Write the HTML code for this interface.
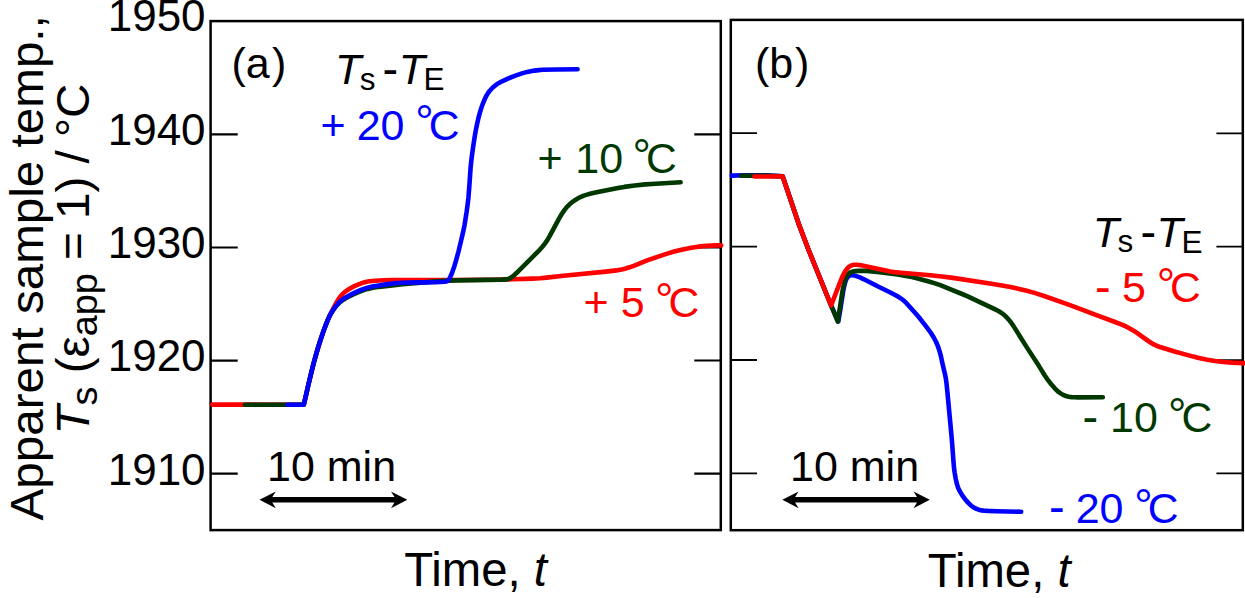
<!DOCTYPE html>
<html lang="en">
<head>
<meta charset="utf-8">
<title>Apparent sample temperature vs time</title>
<style>
  html, body { margin: 0; padding: 0; background: #ffffff; }
  body { width: 1245px; height: 598px; overflow: hidden; }
  svg { display: block; }
  text { font-family: "Liberation Sans", Arial, Helvetica, sans-serif; fill: #000; }
  .it { font-style: italic; }
  .frame { fill: none; stroke: #000; stroke-width: 2.5; }
  .tick { stroke: #000; stroke-width: 2.2; }
  .curve { fill: none; stroke-width: 4.6; stroke-linejoin: round; stroke-linecap: round; }
  .red { stroke: #ff0000; } .green { stroke: #003800; } .blue { stroke: #0000ff; }
  .tr { fill: #ff0000; } .tg { fill: #003800; } .tb { fill: #0000ff; }
</style>
</head>
<body>
<svg width="1245" height="598" viewBox="0 0 1245 598">
  <rect x="0" y="0" width="1245" height="598" fill="#ffffff"/>

  <!-- y axis title -->
  <text transform="translate(42.6 520.5) rotate(-90) scale(1.035 1)" font-size="46">Apparent sample temp.,</text>
  <text transform="translate(88.6 434.5) rotate(-90) scale(1.035 1)" font-size="46"><tspan class="it">T</tspan><tspan font-size="36.5" dy="8">s</tspan><tspan dy="-8"> (ε</tspan><tspan font-size="36.5" dy="8">app</tspan><tspan dy="-8"> = 1) / °C</tspan></text>

  <!-- y tick labels -->
  <g font-size="44" text-anchor="end">
    <text x="205.6" y="31.4">1950</text>
    <text x="205.6" y="145">1940</text>
    <text x="205.6" y="258.1">1930</text>
    <text x="205.6" y="371.3">1920</text>
    <text x="205.6" y="484.5">1910</text>
  </g>

  <!-- frames -->
  <rect class="frame" x="210.6" y="21.1" width="510.2" height="509"/>
  <rect class="frame" x="730.8" y="19.9" width="512" height="510.3"/>

  <!-- ticks left panel -->
  <g class="tick">
    <path d="M210.6 134.4H237.7M210.6 247.5H237.7M210.6 360.6H237.7M210.6 473.7H237.7"/>
    <path d="M720.8 134.3H694.3M720.8 247.4H694.3M720.8 360.5H694.3M720.8 473.7H694.3"/>
  </g>
  <g class="tick" style="stroke-width:1.8">
    <path d="M730.8 133.2H757M730.8 246.6H757M730.8 360H757M730.8 473.4H757"/>
    <path d="M1242.8 133.3H1216.4M1242.8 246.7H1216.4M1242.8 360.1H1216.4M1242.8 473.45H1216.4"/>
  </g>

  <!-- curves left -->
  <path class="curve red" d="M212.3 404.6L303.5 404.7L303.8 404.7L308.0 386.2L311.2 373.0L314.0 361.9L317.0 351.3L320.1 341.2L323.3 331.8L326.6 322.9L329.8 315.5L334.0 307.0L336.4 302.6L338.2 299.6L339.6 297.6L340.8 296.0L342.1 294.5L343.6 293.1L345.1 291.8L347.1 290.3L349.2 289.0L351.8 287.5L354.5 286.1L357.2 284.9L360.0 283.8L362.4 282.9L364.7 282.2L366.7 281.7L369.1 281.3L375.1 280.7L383.6 280.2L391.6 280.1L453.1 280.0L489.2 279.7L512.7 279.3L532.2 278.6L540.2 278.2L546.6 277.6L563.6 275.8L605.9 271.6L618.3 270.1L621.7 269.5L625.6 268.5L629.4 267.3L633.7 265.8L647.2 260.4L665.6 254.1L673.3 251.8L681.5 249.7L686.4 248.7L691.3 247.8L696.3 247.0L700.7 246.4L706.2 245.9L712.2 245.6L716.2 245.4L721.2 245.4"/>
  <path class="curve green" d="M244.9 404.7L303.5 404.7L303.8 404.7L309.9 378.4L312.6 367.2L315.1 358.0L317.7 348.9L320.4 340.3L323.1 332.2L326.0 324.3L328.1 319.2L330.1 315.1L332.1 311.7L334.3 308.4L336.8 305.3L339.3 302.8L342.0 300.6L345.0 298.7L349.3 296.3L353.8 294.2L359.8 291.7L364.5 289.9L367.9 288.9L371.8 288.0L375.7 287.3L381.2 286.6L392.1 285.4L402.6 284.3L432.9 281.6L440.9 281.0L448.9 280.6L457.4 280.4L501.9 279.6L506.3 279.4L507.7 279.1L508.6 278.9L510.2 278.1L511.8 277.0L514.1 275.2L516.7 272.8L536.9 252.7L539.7 249.8L542.0 247.3L545.1 243.4L547.9 239.2L549.9 235.7L559.3 218.1L561.9 213.8L564.4 210.1L566.0 208.1L567.3 206.6L570.1 203.8L572.1 202.2L574.1 200.8L578.3 198.1L581.0 196.8L583.8 195.6L587.1 194.6L591.0 193.5L597.8 192.0L610.5 189.4L617.9 188.0L624.3 186.9L634.7 185.5L645.2 184.4L651.6 184.0L680.6 182.3"/>
  <path class="curve blue" d="M287.4 404.7L303.5 404.7L303.8 404.7L309.2 381.3L311.8 370.6L314.0 361.9L316.3 353.7L318.7 345.5L321.0 338.4L323.4 331.3L325.7 325.2L327.5 320.6L329.2 316.9L331.0 313.4L333.4 309.6L336.1 305.9L338.3 303.2L340.8 300.8L343.2 299.0L346.6 296.9L351.4 294.3L355.9 292.1L361.0 290.0L365.2 288.4L369.1 287.3L373.5 286.3L378.9 285.4L385.8 284.4L392.7 283.5L397.7 283.0L407.7 282.6L435.7 282.1L444.7 281.7L446.4 281.4L447.5 281.0L448.4 280.2L449.1 279.2L450.8 275.8L452.5 271.6L454.3 266.4L456.0 260.7L458.5 251.5L461.2 240.3L463.1 232.1L464.6 224.7L465.6 218.3L466.7 211.4L467.7 203.9L468.4 198.0L469.5 184.0L470.6 167.5L471.6 158.1L472.8 149.2L474.5 137.8L475.8 130.4L477.1 124.0L478.4 118.2L479.8 112.8L481.3 108.1L482.8 103.8L484.5 99.7L486.2 96.1L488.0 93.1L489.8 90.7L492.5 87.8L495.6 85.2L498.5 83.2L502.0 81.3L507.4 78.8L515.4 75.7L522.0 73.4L527.3 71.9L530.7 71.2L534.6 70.6L538.6 70.1L542.6 69.8L556.6 69.5L577.6 69.3"/>
  <!-- curves right -->
  <path class="curve blue" d="M731.8 175.6L745.0 175.3L765.0 175.3L782.7 176.4L798.6 223.6L808.6 250.0L831.1 305.5L838.3 321.5L838.3 321.5L840.4 309.2L843.0 292.4L843.8 287.9L844.6 284.5L845.7 280.7L846.3 279.3L847.0 278.0L847.8 276.9L848.5 276.3L849.6 275.6L850.5 275.3L851.4 275.2L852.8 275.2L854.2 275.5L855.6 275.9L859.9 277.4L864.0 279.3L878.6 286.8L890.4 292.5L896.1 295.5L899.1 297.3L902.0 299.2L904.3 301.1L906.5 303.2L916.8 314.8L920.0 318.6L925.9 326.1L930.6 332.5L933.6 337.2L936.1 342.0L938.1 346.7L939.9 352.4L940.9 356.2L942.8 365.0L945.0 374.3L945.8 378.2L946.5 383.2L947.4 392.1L950.9 429.5L951.9 440.4L953.5 461.9L954.0 467.9L954.6 472.3L955.8 479.2L956.9 484.1L958.2 487.9L959.9 491.5L962.0 494.9L964.3 498.2L966.5 500.9L968.8 503.4L971.0 505.5L973.4 507.3L975.6 508.5L977.9 509.4L979.8 510.0L981.7 510.4L984.2 510.7L987.7 510.9L996.7 511.2L1021.2 511.8"/>
  <path class="curve green" d="M741.0 175.8L765.0 175.6L782.7 176.4L798.6 223.6L808.6 250.0L831.1 305.5L837.8 321.5L837.8 321.5L842.0 293.8L843.1 287.9L844.1 283.5L845.4 279.2L846.2 277.4L846.9 276.1L847.7 274.8L848.7 273.8L849.8 272.8L851.1 272.1L852.9 271.5L855.3 271.1L858.3 270.9L862.8 270.8L866.3 270.9L869.3 271.1L881.8 272.4L897.6 274.5L907.5 276.2L911.9 277.1L916.8 278.2L927.9 281.2L935.1 283.4L940.3 285.2L950.0 289.2L962.1 294.0L967.7 296.3L995.7 309.6L998.4 311.0L1000.5 312.3L1002.6 313.7L1004.1 314.9L1006.3 317.0L1008.7 319.6L1010.9 322.3L1013.2 325.6L1027.0 347.6L1039.0 366.1L1044.8 375.5L1047.6 379.6L1051.0 384.0L1054.6 388.1L1057.8 391.3L1060.6 393.4L1063.1 394.9L1065.9 396.0L1068.8 396.7L1071.8 397.1L1074.8 397.3L1077.8 397.4L1102.8 397.3"/>
  <path class="curve red" d="M754.4 176.5L770.0 176.5L782.7 176.4L798.6 223.6L808.6 250.0L831.1 305.5L831.1 305.5L840.1 282.1L842.2 277.1L844.2 273.0L845.2 271.3L846.3 269.7L847.3 268.5L848.3 267.5L849.4 266.5L850.7 265.8L851.6 265.4L852.9 265.0L854.4 264.8L856.4 264.8L858.8 265.0L862.3 265.5L866.7 266.4L885.8 270.6L890.2 271.5L894.2 272.1L900.6 272.7L927.6 275.0L942.0 276.5L952.9 277.9L993.0 283.9L1003.4 285.7L1011.7 287.3L1019.1 288.9L1026.8 290.8L1033.6 292.6L1038.4 294.1L1044.1 296.0L1065.8 303.6L1074.7 306.9L1095.8 314.9L1115.0 322.0L1122.5 324.9L1125.7 326.4L1128.4 327.7L1133.6 330.7L1137.3 333.2L1148.3 341.0L1152.1 343.5L1153.8 344.4L1156.1 345.5L1160.8 347.3L1174.6 351.5L1187.7 355.1L1197.9 357.7L1207.2 359.7L1215.1 361.0L1223.5 362.0L1232.5 362.6L1244.0 363.1"/>

  <!-- left panel labels -->
  <g font-size="43">
    <text><tspan x="231.53" y="77.90" font-size="43">(a</tspan><tspan x="271.95" y="77.90" font-size="43">)</tspan></text>
    <text><tspan x="334.94" y="84.30" font-size="43" class="it">T</tspan><tspan x="359.67" y="89.60" font-size="31.5">s </tspan><tspan x="382.51" y="84.80" font-size="47">- </tspan><tspan x="398.64" y="84.30" font-size="43" class="it">T</tspan><tspan x="423.52" y="89.80" font-size="31.5">E</tspan></text>
    <text class="tb"><tspan x="320.50" y="139.60" font-size="43">+ </tspan><tspan x="356.64" y="139.60" font-size="43">20 </tspan><tspan x="415.36" y="138.40" font-size="46">°</tspan><tspan x="428.74" y="139.60" font-size="42.6">C</tspan></text>
    <text class="tg"><tspan x="537.40" y="173.20" font-size="43">+ </tspan><tspan x="575.32" y="173.20" font-size="43">10 </tspan><tspan x="632.56" y="172.00" font-size="46">°</tspan><tspan x="645.94" y="173.20" font-size="42.6">C</tspan></text>
    <text class="tr"><tspan x="583.60" y="317.40" font-size="43">+ </tspan><tspan x="620.78" y="317.40" font-size="43">5 </tspan><tspan x="655.06" y="316.20" font-size="46">°</tspan><tspan x="668.44" y="317.40" font-size="42.6">C</tspan></text>
    <text x="267" y="480.6">10 min</text>
    <text x="790" y="480.6">10 min</text>
    <text><tspan x="754.93" y="77.70" font-size="43">(b</tspan><tspan x="795.05" y="77.70" font-size="43">)</tspan></text>
    <text><tspan x="1092.84" y="247.10" font-size="43" class="it">T</tspan><tspan x="1117.57" y="252.40" font-size="31.5">s </tspan><tspan x="1140.41" y="247.60" font-size="47">- </tspan><tspan x="1156.54" y="247.10" font-size="43" class="it">T</tspan><tspan x="1181.42" y="252.60" font-size="31.5">E</tspan></text>
    <text class="tr"><tspan x="1094.91" y="302.50" font-size="47">- </tspan><tspan x="1122.08" y="302.00" font-size="43">5 </tspan><tspan x="1156.66" y="300.80" font-size="46">°</tspan><tspan x="1170.04" y="302.00" font-size="42.6">C</tspan></text>
    <text class="tg"><tspan x="1082.61" y="432.90" font-size="47">- </tspan><tspan x="1110.12" y="432.40" font-size="43">10 </tspan><tspan x="1168.06" y="431.20" font-size="46">°</tspan><tspan x="1181.44" y="432.40" font-size="42.6">C</tspan></text>
    <text class="tb"><tspan x="1048.91" y="523.20" font-size="47">- </tspan><tspan x="1075.64" y="522.70" font-size="43">20 </tspan><tspan x="1134.36" y="521.50" font-size="46">°</tspan><tspan x="1147.74" y="522.70" font-size="42.6">C</tspan></text>
  </g>

  <!-- arrows -->
  <g fill="#000" stroke="none">
    <path d="M259.5 499.8L275.8 491.4L272.3 497.05H394.5L391 491.4L407.3 499.8L391 508.2L394.5 502.55H272.3L275.8 508.2Z"/>
    <path d="M782.3 499.8L798.6 491.4L795.1 497.05H917L913.5 491.4L929.8 499.8L913.5 508.2L917 502.55H795.1L798.6 508.2Z"/>
  </g>

  <!-- x axis titles -->
  <g font-size="47.3">
    <text x="404.2" y="585.9">Time, <tspan class="it">t</tspan></text>
    <text x="927.8" y="587">Time, <tspan class="it">t</tspan></text>
  </g>
</svg>
</body>
</html>
